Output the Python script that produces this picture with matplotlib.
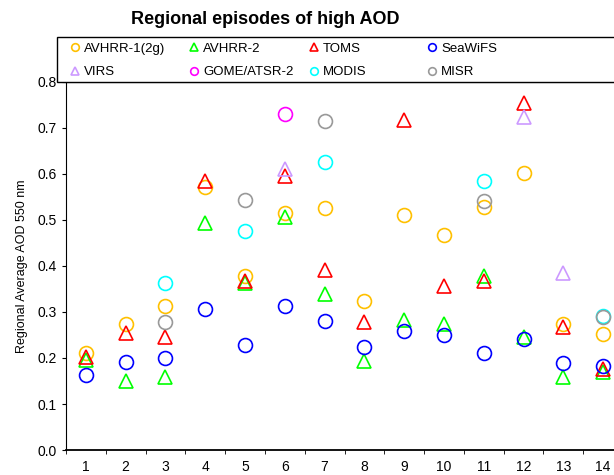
import numpy as np
import matplotlib
matplotlib.use("Agg")
import matplotlib.pyplot as plt
from matplotlib.patches import Rectangle

plt.rcParams["font.family"] = ["Liberation Sans", "DejaVu Sans"]

nan = np.nan
regions = list(range(1, 15))

avhrr1 = [0.211, 0.274, 0.313, 0.572, 0.378, 0.515, 0.526, 0.325, 0.511, 0.468, 0.529, 0.602, 0.274, 0.252]
avhrr2 = [0.196, 0.150, 0.159, 0.494, 0.362, 0.507, 0.340, 0.193, 0.282, 0.275, 0.378, 0.245, 0.159, 0.170]
toms = [0.202, 0.255, 0.245, 0.585, 0.368, 0.596, 0.391, 0.279, 0.717, 0.356, 0.367, 0.754, 0.267, 0.176]
seawifs = [0.163, 0.191, 0.200, 0.307, 0.229, 0.313, 0.281, 0.223, 0.258, 0.249, 0.211, 0.241, 0.189, 0.183]
virs = [nan, nan, nan, nan, nan, 0.611, nan, nan, nan, nan, nan, 0.724, 0.385, nan]
gome = [nan, nan, nan, nan, nan, 0.730, nan, nan, nan, nan, nan, nan, nan, nan]
modis = [nan, nan, 0.363, nan, 0.477, nan, 0.626, nan, nan, nan, 0.585, nan, nan, 0.291]
misr = [nan, nan, 0.278, nan, 0.544, nan, 0.715, nan, nan, nan, 0.541, nan, nan, 0.289]

names = ["AVHRR-1(2g)", "AVHRR-2", "TOMS", "SeaWiFS", "VIRS", "GOME/ATSR-2", "MODIS", "MISR"]
series = [avhrr1, avhrr2, toms, seawifs, virs, gome, modis, misr]
colors = ["#FFC000", "#00FF00", "#FF0000", "#0000FF", "#CC99FF", "#FF00FF", "#00FFFF", "#999999"]
markers = ["o", "^", "^", "o", "^", "o", "o", "o"]

W, H = 614, 475
fig = plt.figure(figsize=(W / 100, H / 100), dpi=100)
ax = fig.add_axes([66 / W, 1 - 450 / H, 557 / W, 368 / H])

handles = []
for vals, name, c, m in zip(series, names, colors, markers):
    h, = ax.plot(regions, vals, linestyle="none", marker=m, markersize=10,
                 markerfacecolor="none", markeredgecolor=c, markeredgewidth=1.2,
                 label=name)
    handles.append(h)

ax.set_xlim(0.5, 14.5)
ax.set_ylim(0, 0.8)
ax.set_yticks(np.arange(0, 0.81, 0.1))
ax.set_yticklabels([f"{v:.1f}" for v in np.arange(0, 0.81, 0.1)])
ax.set_xticks(regions)
ax.set_xticks(np.arange(0.5, 14.6, 1), minor=True)
ax.tick_params(axis="x", which="major", length=0, pad=7, labelsize=10)
ax.tick_params(axis="x", which="minor", length=3, direction="out")
ax.tick_params(axis="y", length=3, direction="out", labelsize=10)
ax.spines["right"].set_visible(False)
ax.spines["bottom"].set_linewidth(1.3)
ax.set_ylabel("Regional Average AOD 550 nm", fontsize=9, labelpad=7)

fig.text(265 / W, 1 - 19 / H, "Regional episodes of high AOD", ha="center", va="center",
         fontsize=13, fontweight="bold")

# legend box above the plot
fig.patches.append(Rectangle((57 / W, 1 - 82 / H), 600 / W, 45 / H, transform=fig.transFigure,
                             facecolor="white", edgecolor="black", linewidth=1.0))
col_x = [59, 178, 298, 416]
for i, x in enumerate(col_x):
    leg = fig.legend(handles=[handles[i], handles[i + 4]], loc="upper left",
                     bbox_to_anchor=(x / W, 1 - 32 / H), frameon=False, fontsize=9.5,
                     markerscale=0.55, handlelength=0.8, handletextpad=0.3,
                     labelspacing=0.85, borderpad=0.3)

fig.savefig("out.png", dpi=100)
